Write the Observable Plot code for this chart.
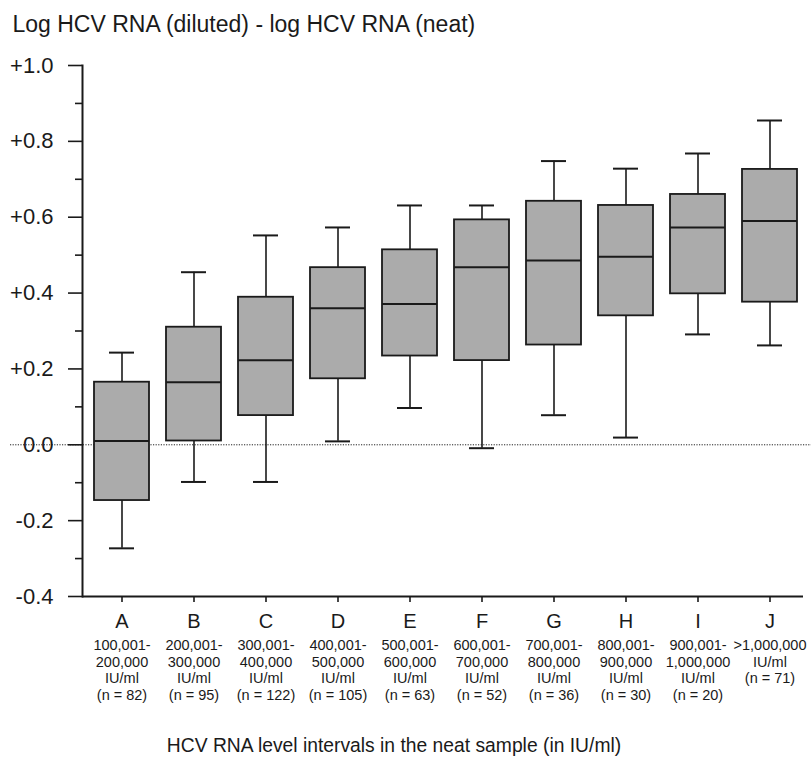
<!DOCTYPE html>
<html><head><meta charset="utf-8">
<script src="https://cdn.jsdelivr.net/npm/d3@7"></script>
<script src="https://cdn.jsdelivr.net/npm/@observablehq/plot@0.6"></script>
<style>body{margin:0;background:#fff} svg{display:block}</style>
</head><body><div id="chart"></div>
<script>
const categories = ["A","B","C","D","E","F","G","H","I","J"];
const ranges = ["100,001-\n200,000","200,001-\n300,000","300,001-\n400,000","400,001-\n500,000","500,001-\n600,000","600,001-\n700,000","700,001-\n800,000","800,001-\n900,000","900,001-\n1,000,000",">1,000,000"];
const nCounts = [82,95,122,105,63,52,36,30,20,71];
const whiskerLow  = [-0.273,-0.098,-0.098,0.009,0.097,-0.009,0.078,0.019,0.291,0.262];
const q1          = [-0.147, 0.010, 0.077,0.174,0.234, 0.222,0.263,0.340,0.398,0.376];
const median      = [ 0.010, 0.165, 0.223,0.360,0.371, 0.468,0.486,0.496,0.573,0.590];
const q3          = [ 0.165, 0.310, 0.389,0.467,0.514, 0.593,0.642,0.631,0.660,0.726];
const whiskerHigh = [ 0.243, 0.455, 0.552,0.573,0.631, 0.631,0.748,0.728,0.768,0.855];
const majorTicks = [-0.4,-0.2,0,0.2,0.4,0.6,0.8,1.0];
const minorTicks = [-0.3,-0.1,0.1,0.3,0.5,0.7,0.9];
const yTitle = "Log HCV RNA (diluted) - log HCV RNA (neat)";
const xTitle = "HCV RNA level intervals in the neat sample (in IU/ml)";

const rows = categories.map((c, i) => ({
  cat: c, lo: whiskerLow[i], q1: q1[i], med: median[i], q3: q3[i], hi: whiskerHigh[i],
  sub: ranges[i] + "\nIU/ml\n(n = " + nCounts[i] + ")"
}));
const subLabel = Object.fromEntries(rows.map(r => [r.cat, r.sub]));
const fmt = d => Math.abs(d) < 1e-9 ? "0.0" : (d > 0 ? "+" : "-") + Math.abs(d).toFixed(1);
const ink = "#1a1a1a";
const font = "'Liberation Sans', Arial, Helvetica, sans-serif";

const chart = Plot.plot({
  width: 811, height: 758,
  marginTop: 65, marginBottom: 162, marginLeft: 82, marginRight: 2,
  style: {fontFamily: font, color: ink, background: "#fff"},
  x: {domain: categories, paddingInner: 0.23, paddingOuter: 0.11, align: 0.5},
  y: {domain: [-0.4, 1.0]},
  marks: [
    Plot.ruleY([0], {stroke: "#222", strokeWidth: 1, strokeDasharray: "1.2,1.4", insetLeft: -72, insetRight: -2}),
    Plot.ruleX(rows, {x: "cat", y1: "q3", y2: "hi", stroke: ink, strokeWidth: 1.6}),
    Plot.ruleX(rows, {x: "cat", y1: "q1", y2: "lo", stroke: ink, strokeWidth: 1.6}),
    Plot.tickY(rows, {x: "cat", y: "hi", stroke: ink, strokeWidth: 2, insetLeft: 15, insetRight: 15}),
    Plot.tickY(rows, {x: "cat", y: "lo", stroke: ink, strokeWidth: 2, insetLeft: 15, insetRight: 15}),
    Plot.barY(rows, {x: "cat", y1: "q1", y2: "q3", fill: "#ababab", stroke: ink, strokeWidth: 1.8}),
    Plot.tickY(rows, {x: "cat", y: "med", stroke: ink, strokeWidth: 2}),
    Plot.frame({anchor: "left", stroke: ink, strokeWidth: 2}),
    Plot.ruleY([-0.4], {stroke: ink, strokeWidth: 2, insetRight: 6}),
    Plot.axisY({ticks: majorTicks, tickSize: 14, tickPadding: 15, tickFormat: fmt, fontSize: 22, stroke: ink, strokeWidth: 1.6, fill: ink}),
    Plot.axisY({ticks: minorTicks, tickSize: 7, tickFormat: () => "", stroke: ink, strokeWidth: 1.6}),
    Plot.axisX({tickSize: 6, tickPadding: 11, fontSize: 20, stroke: ink, strokeWidth: 1.6, fill: ink, label: null}),
    Plot.axisX({tickSize: 0, tickPadding: 41, tickFormat: d => subLabel[d], fontSize: 14.5, lineHeight: 1.17, fill: ink, label: null}),
    Plot.text([yTitle], {text: d => d, frameAnchor: "top-left", dx: -70, dy: -34, textAnchor: "start", lineAnchor: "bottom", fontSize: 23, fill: ink}),
    Plot.text([xTitle], {text: d => d, frameAnchor: "bottom", dx: -52, dy: 155, textAnchor: "middle", lineAnchor: "bottom", fontSize: 19.3, fill: ink})
  ]
});
document.getElementById("chart").appendChild(chart);
</script></body></html>
